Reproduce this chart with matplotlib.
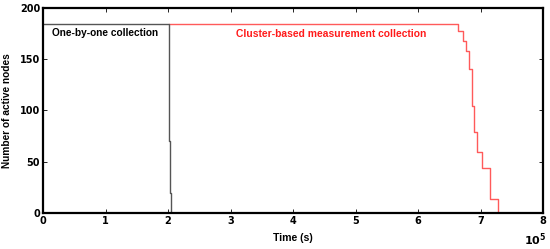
import matplotlib
matplotlib.use("Agg")
import matplotlib.pyplot as plt

# data
one_x = [0.0, 2.01, 2.02, 2.03, 2.04]
one_y = [184, 131, 70, 20, 0]
clu_x = [2.02, 6.645, 6.715, 6.768, 6.82, 6.86, 6.90, 6.94, 7.02, 7.15, 7.275]
clu_y = [184, 178, 168, 158, 140, 104, 79, 60, 44, 14, 0]
xticks = [0, 1, 2, 3, 4, 5, 6, 7, 8]
yticks = [0, 50, 100, 150, 200]

lab = 'Liberation Sans'

fig = plt.figure(figsize=(5.5, 2.49), dpi=100)
ax = fig.add_axes([43/550, 1-213/249, 500/550, 205/249])
ax.step(clu_x, clu_y, where='post', color='#ff5a5a', lw=1.0)
ax.step(one_x, one_y, where='post', color='#555555', lw=1.0)
ax.set_xlim(0, 8)
ax.set_ylim(0, 200)
ax.set_xticks(xticks)
ax.set_yticks(yticks)
tfont = dict(family='DejaVu Sans', weight='bold', size=7)
ax.set_xticklabels([str(t) for t in xticks], fontdict=tfont)
ax.set_yticklabels([str(t) for t in yticks], fontdict=tfont)
ax.tick_params(direction='in', length=3, width=0.6, top=True, right=True, pad=2)
for s in ax.spines.values():
    s.set_linewidth(1.6)
ax.set_xlabel('Time (s)', family=lab, weight='bold', size=7.6, labelpad=5)
ax.set_ylabel('Number of active nodes', family=lab, weight='bold', size=7.3, labelpad=6)
ax.text(0.14, 176, 'One-by-one collection', family=lab, weight='bold', size=7.3, color='black', va='center')
ax.text(3.08, 175, 'Cluster-based measurement collection', family=lab, weight='bold', size=7.4, color='#ff1a1a', va='center')
fig.text(546/550, 1-240/249, r'$\mathbf{10^5}$', size=8, ha='right', va='center')
fig.savefig('out.png', dpi=100)
